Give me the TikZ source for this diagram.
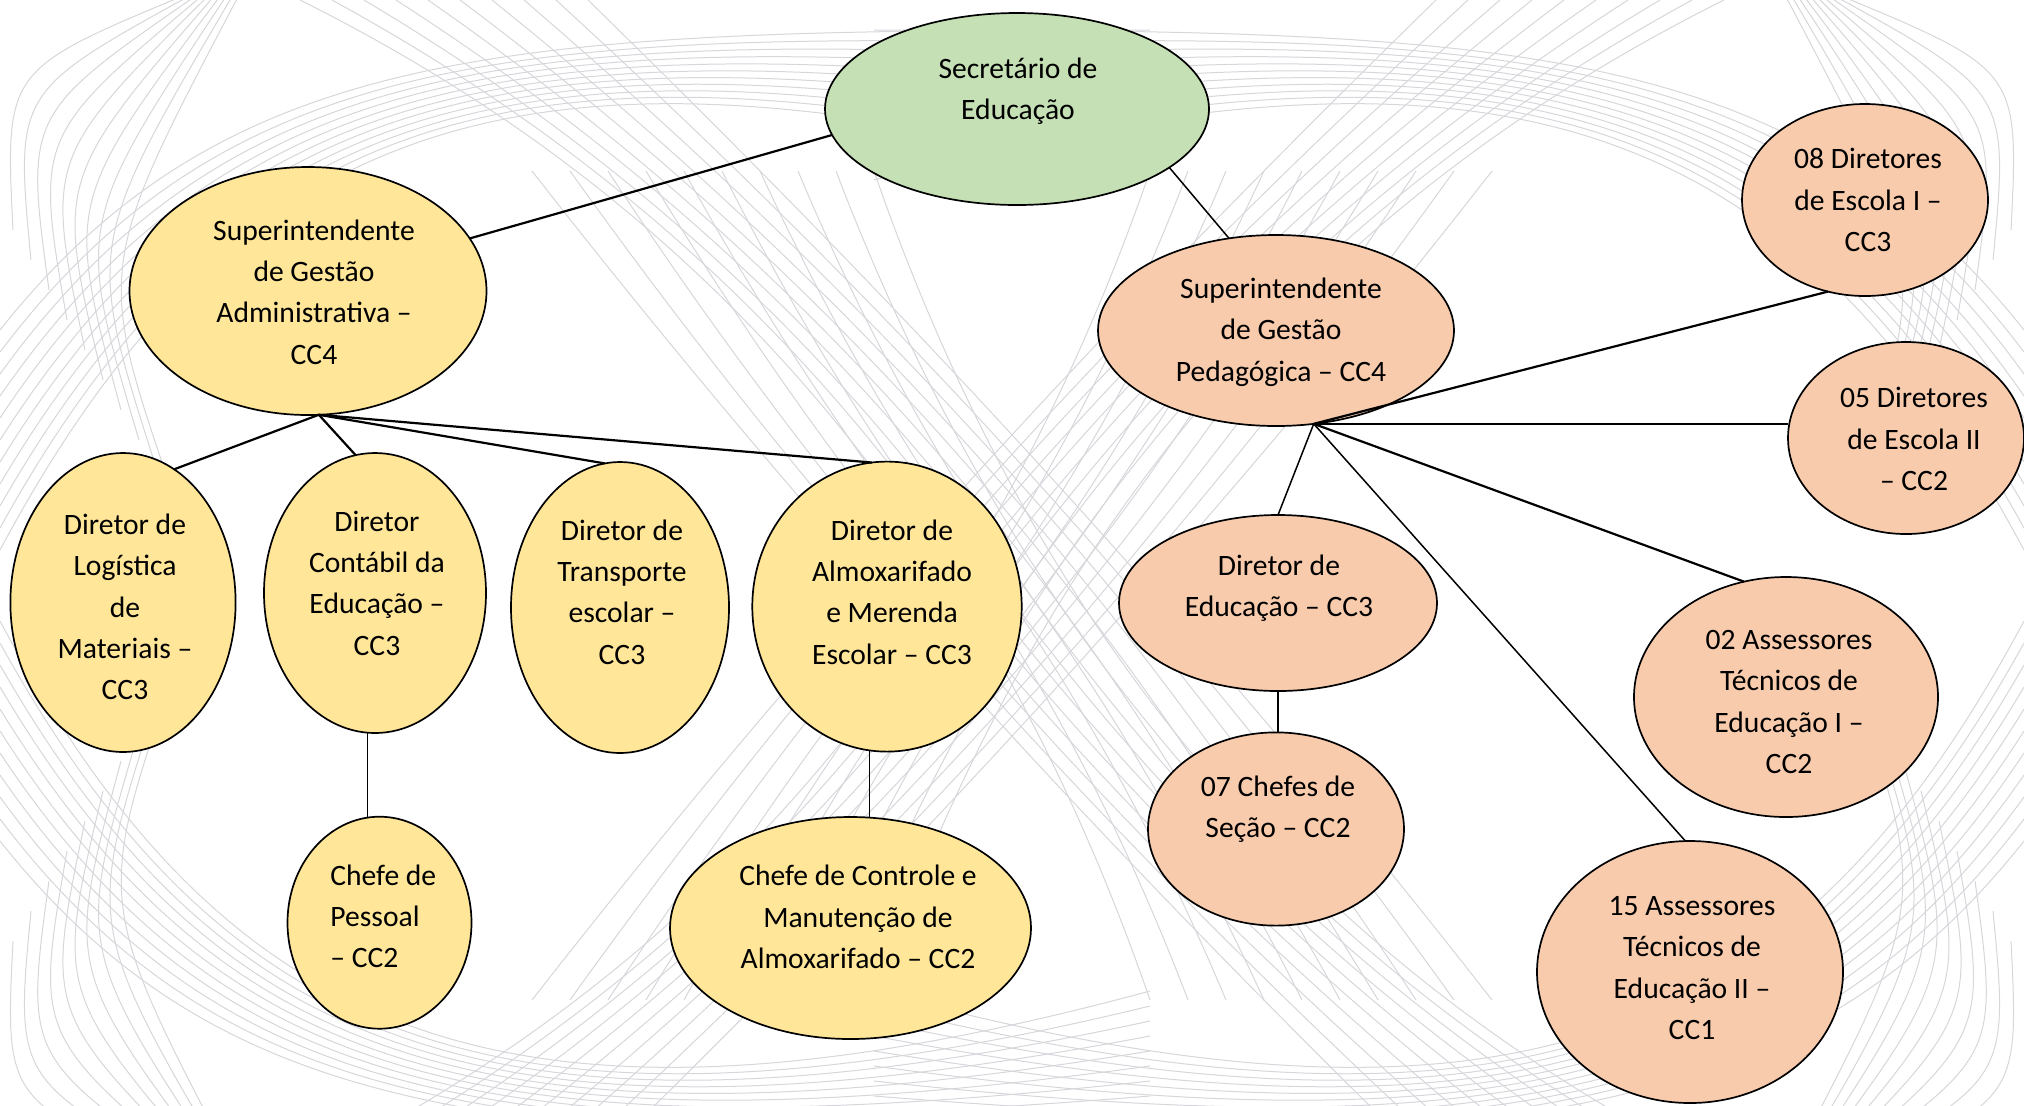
\documentclass[tikz,border=0pt]{standalone}
\usepackage{fontspec}
\setmainfont{Carlito}
\usetikzlibrary{shapes.geometric}
\definecolor{secgreen}{HTML}{C5E0B4}
\definecolor{admyellow}{HTML}{FFE699}
\definecolor{pedpeach}{HTML}{F8CBAD}
\definecolor{bgline}{HTML}{D6D6DB}
\tikzset{
  ell/.style={ellipse, draw=black, line width=0.85pt, inner sep=0pt, outer sep=0pt},
  gr/.style={ell, fill=secgreen},
  ye/.style={ell, fill=admyellow},
  pe/.style={ell, fill=pedpeach},
  lbl/.style={font=\fontsize{14.8}{20.65}\selectfont, align=center, inner sep=0pt},
  conn/.style={line width=1.1pt, black},
  connthin/.style={line width=0.75pt, black},
  bg/.style={bgline, line width=0.5pt}
}
\newcommand\bgquadrant{%
  \foreach \i in {0,...,9}{
    \draw[bg] (185+6*\i,-5) .. controls (5+10*\i,70+22*\i) .. (13+18*\i,230+30*\i);
  }
  \foreach \i in {0,...,10}{
    \draw[bg] (0,330+22*\i) .. controls (230,40+8*\i) and (520,30-2*\i) .. (1150,30+15*\i);
  }
  \foreach \i in {0,...,9}{
    \draw[bg] (300+32*\i,0) .. controls (600+28*\i,150+12*\i) and (950+24*\i,420+18*\i) .. (1150+38*\i,1000);
  }
}
\begin{document}
\begin{tikzpicture}[x=0.5pt,y=-0.5pt]
\useasboundingbox (0,0) rectangle (2024,1105);
\begin{scope}
\clip (0,0) rectangle (2024,1105);
\bgquadrant
\begin{scope}[shift={(2024,0)},xscale=-1] \bgquadrant \end{scope}
\begin{scope}[shift={(0,1171)},yscale=-1] \bgquadrant \end{scope}
\begin{scope}[shift={(2024,1171)},xscale=-1,yscale=-1] \bgquadrant \end{scope}
\end{scope}

% ellipses
\node[gr, minimum width=192pt, minimum height=96pt] (sec) at (1017,109) {};
\node[ye, minimum width=178.5pt, minimum height=124pt] (adm) at (308,291) {};
\node[pe, minimum width=178pt, minimum height=95.5pt] (ped) at (1276,330.5) {};
\node[pe, minimum width=123pt, minimum height=96pt] (d08) at (1865,200) {};
\node[pe, minimum width=118pt, minimum height=96pt] (d05) at (1906,438) {};
\node[ye, minimum width=112.6pt, minimum height=149.5pt] (log) at (123,602.5) {};
\node[ye, minimum width=111pt, minimum height=140pt] (cont) at (375,593) {};
\node[ye, minimum width=109pt, minimum height=145.5pt] (trn) at (620,607.5) {};
\node[ye, minimum width=134.7pt, minimum height=145pt] (alm) at (887,606.6) {};
\node[ye, minimum width=92pt, minimum height=106pt] (pes) at (379.5,922.7) {};
\node[ye, minimum width=180.5pt, minimum height=111pt] (ctl) at (850.5,928) {};
\node[pe, minimum width=159pt, minimum height=88pt] (ded) at (1278,603) {};
\node[pe, minimum width=128pt, minimum height=96.6pt] (chf) at (1276,829) {};
\node[pe, minimum width=152pt, minimum height=120pt] (a02) at (1786,697) {};
\node[pe, minimum width=153pt, minimum height=131pt] (a15) at (1690,972) {};

% labels
\node[lbl] (secT) at (1018,91) {Secretário de\\Educação};
\node[lbl] (admT) at (314,292) {Superintendente\\de Gestão\\Administrativa –\\CC4};
\node[lbl] (pedT) at (1281,332) {Superintendente\\de Gestão\\Pedagógica – CC4};
\node[lbl] (d08T) at (1868,200) {08 Diretores\\de Escola I –\\CC3};
\node[lbl] (d05T) at (1914,439) {05 Diretores\\de Escola II\\– CC2};
\node[lbl] (logT) at (125,607) {Diretor de\\Logística\\de\\Materiais –\\CC3};
\node[lbl] (contT) at (377,583) {Diretor\\Contábil da\\Educação –\\CC3};
\node[lbl] (trnT) at (622,592) {Diretor de\\Transporte\\escolar –\\CC3};
\node[lbl] (almT) at (892,592) {Diretor de\\Almoxarifado\\e Merenda\\Escolar – CC3};
\node[lbl, align=left, anchor=west] (pesT) at (330,916.5) {Chefe de\\Pessoal\\– CC2};
\node[lbl] (ctlT) at (858,917) {Chefe de Controle e\\Manutenção de\\Almoxarifado – CC2};
\node[lbl] (dedT) at (1279,588.5) {Diretor de\\Educação – CC3};
\node[lbl] (chfT) at (1278,809.5) {07 Chefes de\\Seção – CC2};
\node[lbl] (a02T) at (1789,702) {02 Assessores\\Técnicos de\\Educação I –\\CC2};
\node[lbl] (a15T) at (1692,968) {15 Assessores\\Técnicos de\\Educação II –\\CC1};

% connectors
\draw[conn] (adm.18.9) -- (sec.188.7);
\draw[connthin] (sec.339.4) -- (ped.117);
\draw[conn] (adm.275) -- (log.69);
\draw[conn] (adm.275) -- (cont.98.5);
\draw[conn] (adm.275) -- (trn.96);
\draw[conn] (adm.275) -- (alm.96);
\draw[connthin] (cont.267) -- (cont.267 |- pes.north);
\draw[connthin] (alm.263.5) -- (alm.263.5 |- ctl.north);
\draw[conn] (ped.292.5) -- (d08.248.3);
\draw[conn] (ped.292.5) -- (ped.292.5 -| d05.west);
\draw[conn] (ped.292.5) -- (a02.110.6);
\draw[connthin] (ped.292.5) -- (a15.92.8);
\draw[connthin] (ped.292.5) -- (ded.north);
\draw[connthin] (ded.south) -- (ded.south |- chf.north);
\end{tikzpicture}
\end{document}
